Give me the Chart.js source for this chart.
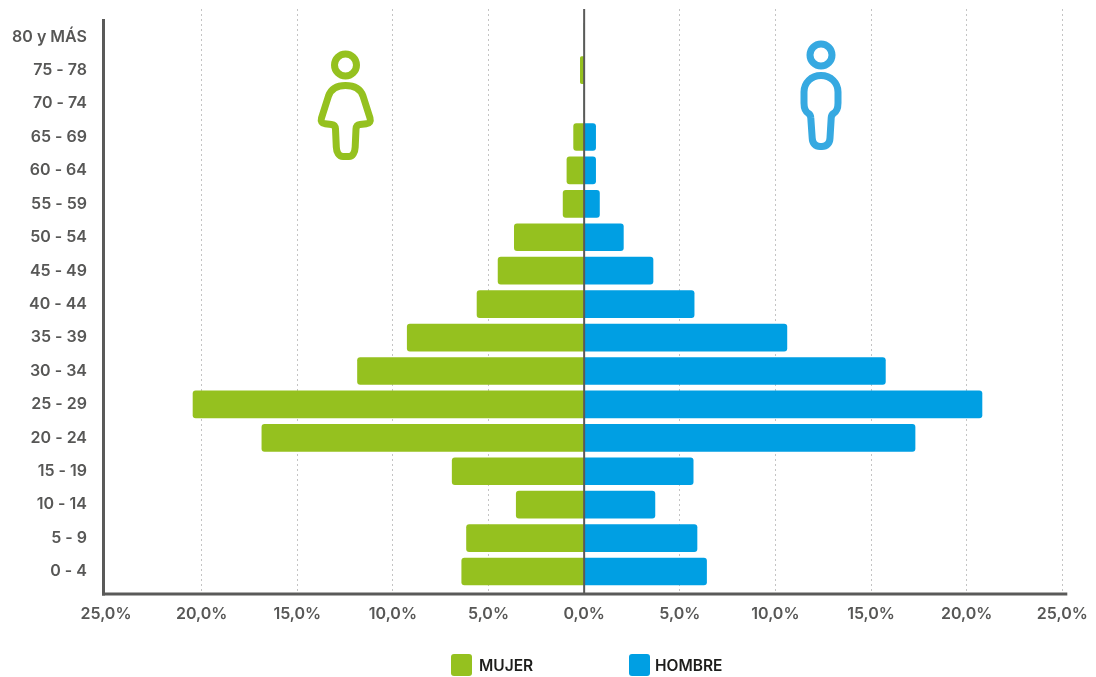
<!DOCTYPE html>
<html lang="es">
<head>
<meta charset="UTF-8">
<title>Pirámide de población</title>
<script src="https://cdn.jsdelivr.net/npm/chart.js"></script>
<style>
  html, body { margin: 0; padding: 0; background: #fff; }
  #wrap { position: relative; width: 1096px; height: 677px; overflow: hidden; }
  canvas { position: absolute; left: 0; top: 0; }
  svg { position: absolute; left: 0; top: 0; pointer-events: none; }
  .key { position: absolute; top: 654px; display: flex; align-items: center; height: 22px;
         font: 600 15.5px Inter, sans-serif; color: #1d1d1b; }
  .key i { display: block; width: 21px; height: 22px; border-radius: 3px; margin-right: 7px; }
</style>
</head>
<body>
<div id="wrap">
  <canvas id="chart" width="1096" height="677"></canvas>
  <svg width="1096" height="677" fill="none" stroke-width="7" stroke-linejoin="round">
    <g stroke="#95c11f">
      <circle cx="345.5" cy="65" r="11"/>
      <path d="M345.5 85.5C337 85.5 331 89 328.500 96L321.500 118C320.500 121.500 322 123.500 325 123.700L331.500 124.500C334 124.800 335.300 126 335.500 129L336.300 147C336.500 152.500 339 156.500 343 156.500L349 156.500C352.500 156.500 355 152.500 355.200 147L356 129C356.200 126 357.500 124.800 360 124.500L366.500 123.700C369.500 123.500 371 121.500 370 118L363 96C360.500 89 354 85.500 345.500 85.500Z"/>
    </g>
    <g stroke="#36a9e1">
      <circle cx="821" cy="55" r="11"/>
      <path d="M821 75.500C811 75.500 804 83 804 92L804 103C804 108 806 112 808.500 113.500C810 114.500 810.700 115.500 810.800 118L812.200 138C812.400 143.500 815.500 146.500 820 146.500L822 146.500C826.500 146.500 829.800 143.500 830 138L831.200 118C831.300 115.500 832 114.500 833.500 113.500C836 112 838 108 838 103L838 92C838 83 831 75.500 821 75.500Z"/>
    </g>
  </svg>
  <div class="key" style="left:451px"><i style="background:#95c11f"></i>MUJER</div>
  <div class="key" style="left:629px"><i style="background:#009fe3;margin-right:5px"></i>HOMBRE</div>
</div>
<script>
// bottom row first, same order as the y scale
const ageGroups = ['0 - 4', '5 - 9', '10 - 14', '15 - 19', '20 - 24', '25 - 29', '30 - 34', '35 - 39',
  '40 - 44', '45 - 49', '50 - 54', '55 - 59', '60 - 64', '65 - 69', '70 - 74', '75 - 78', '80 y MÁS'];
const mujer = [6.4, 6.15, 3.55, 6.9, 16.85, 20.45, 11.85, 9.25, 5.6, 4.5, 3.65, 1.1, 0.9, 0.55, 0, 0.2, 0];
const hombre = [6.4, 5.9, 3.7, 5.7, 17.3, 20.8, 15.75, 10.6, 5.75, 3.6, 2.05, 0.8, 0.6, 0.6, 0, 0, 0];

const axisColor = '#5a5a59';
const textColor = '#575756';
const tickFont = { family: 'Inter', size: 16, weight: '600' };

// axis lines sit a little outside the plot area in the original, so they are drawn by hand
const axisLines = {
  id: 'axisLines',
  afterDatasetsDraw(chart) {
    const { ctx, scales: { x, y } } = chart;
    const line = (x0, y0, x1, y1, w) => {
      ctx.beginPath();
      ctx.moveTo(x0, y0);
      ctx.lineTo(x1, y1);
      ctx.lineWidth = w;
      ctx.strokeStyle = axisColor;
      ctx.stroke();
    };
    ctx.save();
    line(x.getPixelForValue(0), y.top, x.getPixelForValue(0), y.bottom, 2);
    line(103.5, 19, 103.5, y.bottom + 1.5, 3);
    line(102, y.bottom, x.right + 5, y.bottom, 3);
    ctx.restore();
  }
};

new Chart(document.getElementById('chart'), {
  type: 'bar',
  plugins: [axisLines],
  data: {
    datasets: [
      {
        label: 'MUJER',
        data: mujer.map((v, i) => ({ x: -v, y: i })),
        backgroundColor: '#95c11f'
      },
      {
        label: 'HOMBRE',
        data: hombre.map((v, i) => ({ x: v, y: i })),
        backgroundColor: '#009fe3'
      }
    ]
  },
  options: {
    indexAxis: 'y',
    responsive: false,
    animation: false,
    layout: { padding: { top: 9, right: 33.7, bottom: 0, left: 0 } },
    datasets: { bar: { grouped: false, barThickness: 27, borderRadius: 3 } },
    plugins: { legend: { display: false }, tooltip: { enabled: false } },
    scales: {
      x: {
        type: 'linear',
        min: -25,
        max: 25,
        afterFit(scale) {
          scale.height = 83;
          scale.paddingLeft = 0;
          scale.paddingRight = 0;
        },
        border: { display: false, dash: [2, 3] },
        grid: {
          drawTicks: false,
          lineWidth: 1,
          color: (c) => (c.tick.value === 0 || c.tick.value === -25) ? 'transparent' : '#c4c4c4'
        },
        ticks: {
          stepSize: 5,
          padding: 11,
          maxRotation: 0,
          color: textColor,
          font: tickFont,
          callback: (v) => Math.abs(v).toFixed(1).replace('.', ',') + '%'
        }
      },
      y: {
        type: 'linear',
        offset: false,
        min: -0.673,
        max: 16.83,
        afterFit(scale) {
          scale.width = 106;
          scale.paddingTop = 0;
          scale.paddingBottom = 0;
        },
        border: { display: false },
        grid: { display: false, drawTicks: false },
        ticks: {
          stepSize: 1,
          includeBounds: false,
          autoSkip: false,
          padding: 19,
          color: textColor,
          font: tickFont,
          callback: (v) => ageGroups[v]
        }
      }
    }
  }
});
</script>
</body>
</html>
